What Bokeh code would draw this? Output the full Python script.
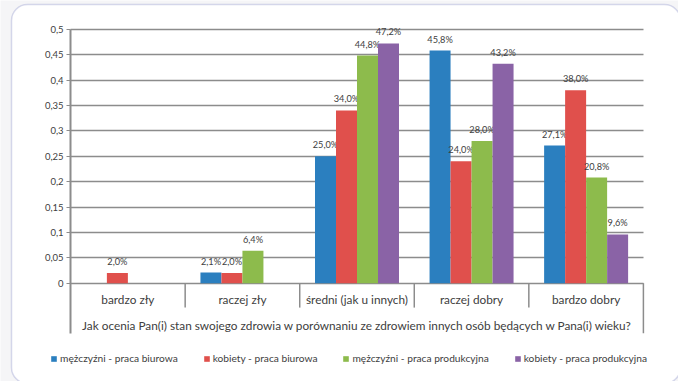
from bokeh.plotting import figure
from bokeh.models import Range1d, FixedTicker, ColumnDataSource, Legend, LegendItem, BoxAnnotation
from bokeh.core.properties import value
from bokeh.embed import file_html
from bokeh.resources import INLINE

categories = ["bardzo zły", "raczej zły", "średni (jak u innych)", "raczej dobry", "bardzo dobry"]
series_names = ["mężczyźni - praca biurowa", "kobiety - praca biurowa",
                "mężczyźni - praca produkcyjna", "kobiety - praca produkcyjna"]
m_biuro = [0.0, 0.021, 0.250, 0.458, 0.271]
k_biuro = [0.020, 0.020, 0.340, 0.240, 0.380]
m_prod = [0.0, 0.064, 0.448, 0.280, 0.208]
k_prod = [0.0, 0.0, 0.472, 0.432, 0.096]
y_ticks = [0, 0.05, 0.1, 0.15, 0.2, 0.25, 0.3, 0.35, 0.4, 0.45, 0.5]
y_tick_labels = ["0", "0,05", "0,1", "0,15", "0,2", "0,25", "0,3", "0,35", "0,4", "0,45", "0,5"]
x_title = "Jak ocenia Pan(i) stan swojego zdrowia w porównaniu ze zdrowiem innych osób będących w Pana(i) wieku?"

series = [m_biuro, k_biuro, m_prod, k_prod]
colors = ["#2b7fbf", "#e0504c", "#8dbb4c", "#8a63a6"]

FONT = "Lato"
TXT = "#404040"
GRID = "#8c8c8c"

p = figure(width=678, height=381, output_backend="svg", toolbar_location=None,
           x_range=Range1d(-0.6119, 5.3064), y_range=Range1d(-0.1935, 0.5565),
           x_axis_location=None,
           min_border_left=0, min_border_right=0, min_border_top=0, min_border_bottom=0)
p.outline_line_color = None
p.background_fill_color = "#f5f5f7"
p.border_fill_color = "#f5f5f7"

# rounded white panel
panel = BoxAnnotation(left=11, right=680, top=4, bottom=383,
                      left_units="canvas", right_units="canvas", top_units="canvas", bottom_units="canvas",
                      fill_color="white", fill_alpha=1.0, line_color="#7f84c4", line_width=1.5,
                      border_radius=16, level="image")
p.add_layout(panel)

# y axis, drawn at x = 0 inside the frame
yax = p.yaxis[0]
yax.fixed_location = 0
yax.ticker = FixedTicker(ticks=y_ticks, minor_ticks=[])
yax.major_label_overrides = {t: l for t, l in zip(y_ticks, y_tick_labels)}
yax.bounds = (-0.0985, 0.5)
yax.axis_line_color = GRID
yax.axis_line_width = 2
yax.major_tick_line_color = GRID
yax.major_tick_out = 4
yax.major_tick_in = 0
yax.minor_tick_line_color = None
yax.major_label_standoff = 3
yax.major_label_text_font = FONT
yax.major_label_text_font_size = "9.5px"
yax.major_label_text_color = TXT

p.xgrid.visible = False
grid_ok = True
try:
    p.ygrid[0].cross_bounds = (0, 5)
except Exception:
    grid_ok = False
if grid_ok:
    p.ygrid.ticker = FixedTicker(ticks=y_ticks)
    p.ygrid.grid_line_color = GRID
    p.ygrid.grid_line_width = 1.4
else:
    p.ygrid.visible = False
    p.segment(x0=[0] * len(y_ticks), y0=y_ticks, x1=[5] * len(y_ticks), y1=y_ticks,
              line_color=GRID, line_width=1.4)

# bars
bw = 0.1833
renderers = []
for j, (vals, col, name) in enumerate(zip(series, colors, series_names)):
    xs = [i + 0.5 + (j - 1.5) * bw for i in range(len(categories))]
    src = ColumnDataSource(dict(x=xs, top=vals))
    r = p.vbar(x="x", top="top", width=bw, source=src, fill_color=col, line_color=None)
    renderers.append(r)
    lx = [x for x, v in zip(xs, vals) if v > 0]
    lv = [v for v in vals if v > 0]
    lt = [("%.1f%%" % (v * 100)).replace(".", ",") for v in lv]
    p.text(x=lx, y=lv, text=lt, text_align="center", text_baseline="bottom",
           y_offset=-6, text_font=value(FONT), text_font_size="9.2px", text_color=TXT)

# category separators and frame lines of the category axis
p.segment(x0=[1, 2, 3, 4], y0=[0] * 4, x1=[1, 2, 3, 4], y1=[-0.048] * 4,
          line_color=GRID, line_width=1.5)
p.segment(x0=[5], y0=[0], x1=[5], y1=[-0.0985], line_color=GRID, line_width=1.5)

# category labels
p.text(x=[i + 0.5 for i in range(len(categories))], y=[-0.032] * len(categories), text=categories,
       text_align="center", text_baseline="middle", text_font=value(FONT),
       text_font_size="11.8px", text_color=TXT)
p.text(x=[2.5], y=[-0.0833], text=[x_title], text_align="center", text_baseline="middle",
       text_font=value(FONT), text_font_size="11.8px", text_color=TXT)

legend = Legend(items=[LegendItem(label=n, renderers=[r]) for n, r in zip(series_names, renderers)],
                orientation="horizontal", location=(50, 17), spacing=25,
                glyph_width=7, glyph_height=7, label_standoff=3, padding=0, margin=0,
                border_line_color=None, background_fill_alpha=0,
                label_text_font=FONT, label_text_font_size="10.2px", label_text_color=TXT,
                label_height=12)
p.add_layout(legend)

open("out.html", "w").write(file_html(p, INLINE))
